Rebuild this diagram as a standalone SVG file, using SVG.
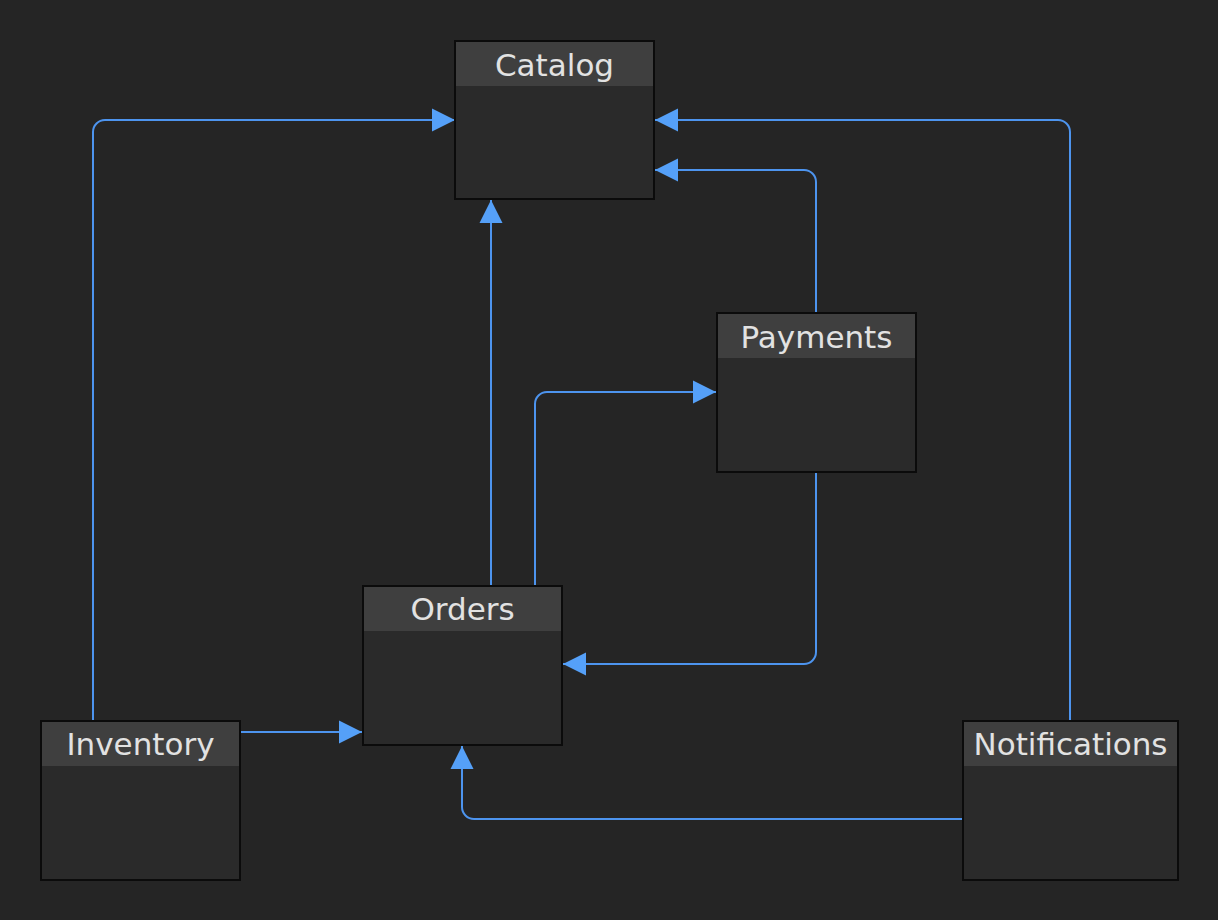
<svg xmlns="http://www.w3.org/2000/svg" width="1218" height="920" viewBox="0 0 1218 920">
  <style>
    .body { fill: #2a2a2a; }
    .head { fill: #3f3f3f; }
    .frame { fill: none; stroke: #0b0b0b; stroke-width: 2; }
    .label { font-family: "DejaVu Sans", "Noto Sans", sans-serif; font-size: 31px; fill: #e2e2e2; text-anchor: middle; }
    .edge { fill: none; stroke: #4d94ee; stroke-width: 2; }
  </style>
  <defs>
    <marker id="arrow" markerUnits="userSpaceOnUse" markerWidth="24" markerHeight="24" refX="23" refY="12" orient="auto">
      <path d="M0,0.5 L23,12 L0,23.5 Z" fill="#55a0f8"/>
    </marker>
  </defs>
  <rect width="1218" height="920" fill="#252525"/>

  <g id="connectors">
    <path class="edge" marker-end="url(#arrow)" d="M93,720 V132 A12,12 0 0 1 105,120 H455"/>
    <path class="edge" marker-end="url(#arrow)" d="M1070,720 V132 A12,12 0 0 0 1058,120 H655"/>
    <path class="edge" marker-end="url(#arrow)" d="M816,312 V182 A12,12 0 0 0 804,170 H655"/>
    <path class="edge" marker-end="url(#arrow)" d="M491,585 V200"/>
    <path class="edge" marker-end="url(#arrow)" d="M535,585 V404 A12,12 0 0 1 547,392 H716"/>
    <path class="edge" marker-end="url(#arrow)" d="M816,473 V652 A12,12 0 0 1 804,664 H563"/>
    <path class="edge" marker-end="url(#arrow)" d="M241,732 H362"/>
    <path class="edge" marker-end="url(#arrow)" d="M962,819 H474 A12,12 0 0 1 462,807 V746"/>
  </g>

  <g id="catalog">
    <rect class="body" x="455" y="41" width="199" height="158"/>
    <rect class="head" x="455" y="41" width="199" height="45"/>
    <rect class="frame" x="455" y="41" width="199" height="158"/>
    <text class="label" x="554.5" y="76">Catalog</text>
  </g>

  <g id="payments">
    <rect class="body" x="717" y="313" width="199" height="159"/>
    <rect class="head" x="717" y="313" width="199" height="45"/>
    <rect class="frame" x="717" y="313" width="199" height="159"/>
    <text class="label" x="816.5" y="348">Payments</text>
  </g>

  <g id="orders">
    <rect class="body" x="363" y="586" width="199" height="159"/>
    <rect class="head" x="363" y="586" width="199" height="45"/>
    <rect class="frame" x="363" y="586" width="199" height="159"/>
    <text class="label" x="462.5" y="620">Orders</text>
  </g>

  <g id="inventory">
    <rect class="body" x="41" y="721" width="199" height="159"/>
    <rect class="head" x="41" y="721" width="199" height="45"/>
    <rect class="frame" x="41" y="721" width="199" height="159"/>
    <text class="label" x="140.5" y="755">Inventory</text>
  </g>

  <g id="notifications">
    <rect class="body" x="963" y="721" width="215" height="159"/>
    <rect class="head" x="963" y="721" width="215" height="45"/>
    <rect class="frame" x="963" y="721" width="215" height="159"/>
    <text class="label" x="1070.5" y="755">Notifications</text>
  </g>
</svg>
